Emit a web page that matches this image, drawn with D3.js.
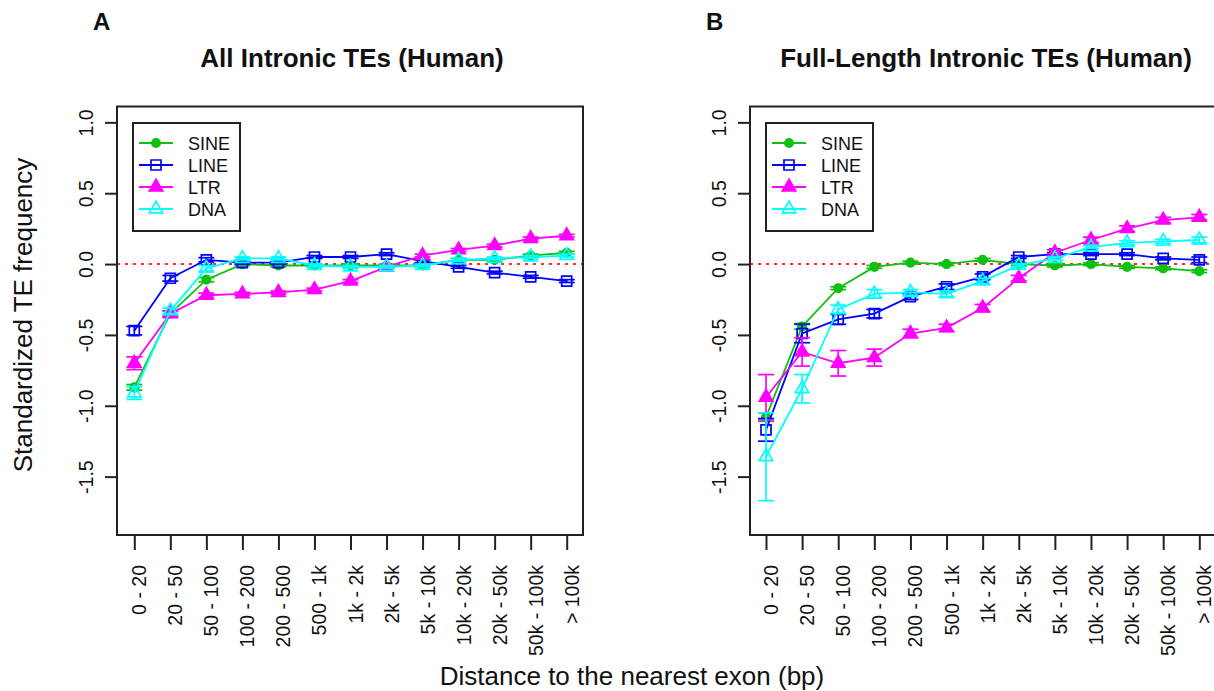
<!DOCTYPE html>
<html>
<head>
<meta charset="utf-8">
<script src="https://cdn.jsdelivr.net/npm/d3@7"></script>
<style>
  body { margin: 0; background: #fff; }
  svg { display: block; }
  text { font-family: "Liberation Sans", Arial, Helvetica, sans-serif; fill: #111; }
</style>
</head>
<body>
<div id="chart"></div>
<script>
var categories = ['0 - 20', '20 - 50', '50 - 100', '100 - 200', '200 - 500', '500 - 1k',
  '1k - 2k', '2k - 5k', '5k - 10k', '10k - 20k', '20k - 50k', '50k - 100k', '> 100k'];
var yTicks = [-1.5, -1.0, -0.5, 0.0, 0.5, 1.0];
var yTickLabels = ['-1.5', '-1.0', '-0.5', '0.0', '0.5', '1.0'];

var seriesNames = ['SINE', 'LINE', 'LTR', 'DNA'];
var seriesColors = ['#10c010', '#0000ff', '#ff00ff', '#00ffff'];

// panel A: all intronic TEs
var allSine = [-0.87, -0.35, -0.11, 0.00, -0.01, -0.01, -0.01, -0.01, -0.01, 0.03, 0.03, 0.06, 0.08];
var allSineErr = [0.02, 0.02, 0.015, 0.01, 0.01, 0.01, 0.01, 0.01, 0.01, 0.01, 0.01, 0.01, 0.01];
var allLine = [-0.47, -0.10, 0.03, 0.01, 0.01, 0.05, 0.05, 0.07, 0.02, -0.02, -0.06, -0.09, -0.12];
var allLineErr = [0.03, 0.02, 0.015, 0.01, 0.01, 0.01, 0.01, 0.01, 0.01, 0.01, 0.01, 0.01, 0.01];
var allLtr = [-0.70, -0.35, -0.22, -0.21, -0.20, -0.18, -0.12, -0.02, 0.06, 0.10, 0.13, 0.18, 0.20];
var allLtrErr = [0.045, 0.02, 0.015, 0.01, 0.01, 0.01, 0.01, 0.01, 0.01, 0.01, 0.01, 0.01, 0.01];
var allDna = [-0.91, -0.33, -0.03, 0.04, 0.04, -0.01, -0.02, -0.02, -0.01, 0.03, 0.04, 0.05, 0.06];
var allDnaErr = [0.045, 0.02, 0.02, 0.01, 0.01, 0.01, 0.01, 0.01, 0.01, 0.01, 0.01, 0.01, 0.01];

// panel B: full-length intronic TEs
var fullSine = [-1.08, -0.44, -0.17, -0.02, 0.01, 0.00, 0.03, 0.00, -0.01, 0.00, -0.02, -0.03, -0.05];
var fullSineErr = [0.03, 0.02, 0.01, 0.01, 0.01, 0.01, 0.01, 0.01, 0.01, 0.01, 0.01, 0.01, 0.01];
var fullLine = [-1.17, -0.49, -0.39, -0.35, -0.23, -0.16, -0.09, 0.05, 0.07, 0.07, 0.07, 0.04, 0.03];
var fullLineErr = [0.08, 0.065, 0.035, 0.03, 0.02, 0.02, 0.02, 0.01, 0.01, 0.01, 0.01, 0.01, 0.02];
var fullLtr = [-0.94, -0.62, -0.70, -0.66, -0.49, -0.45, -0.31, -0.10, 0.08, 0.17, 0.25, 0.31, 0.33];
var fullLtrErr = [0.16, 0.10, 0.09, 0.06, 0.03, 0.025, 0.025, 0.02, 0.02, 0.02, 0.02, 0.02, 0.02];
var fullDna = [-1.36, -0.88, -0.32, -0.21, -0.20, -0.21, -0.12, -0.01, 0.04, 0.12, 0.15, 0.16, 0.17];
var fullDnaErr = [0.31, 0.10, 0.03, 0.03, 0.02, 0.02, 0.02, 0.01, 0.01, 0.01, 0.015, 0.015, 0.02];

var width = 1214,
  height = 691,
  plotTop = 106.5,
  plotBottom = 535,
  boxColor = '#222';

var svg = d3.select('#chart').append('svg')
  .attr('width', width)
  .attr('height', height);

var y = d3.scaleLinear()
  .domain([-1.912, 1.112])
  .range([plotBottom, plotTop]);

var symbols = [
  { type: d3.symbolCircle, size: 55, fill: true },
  { type: d3.symbolSquare, size: 100, fill: false },
  { type: d3.symbolTriangle, size: 78, fill: true },
  { type: d3.symbolTriangle, size: 78, fill: false }
];

var panels = [
  {
    left: 117, right: 583, x0: 134.3, x1: 566.7,
    title: 'All Intronic TEs (Human)', titleX: 352, letter: 'A', letterX: 93,
    legendX: 133,
    values: [allSine, allLine, allLtr, allDna],
    errors: [allSineErr, allLineErr, allLtrErr, allDnaErr]
  },
  {
    left: 750, right: 1215, x0: 766, x1: 1199.3,
    title: 'Full-Length Intronic TEs (Human)', titleX: 986, letter: 'B', letterX: 706,
    legendX: 766,
    values: [fullSine, fullLine, fullLtr, fullDna],
    errors: [fullSineErr, fullLineErr, fullLtrErr, fullDnaErr]
  }
];

function drawMarker(g, i, cx, cy) {
  var s = symbols[i];
  g.append('path')
    .attr('d', d3.symbol().type(s.type).size(s.size)())
    .attr('transform', 'translate(' + cx + ',' + cy + ')')
    .attr('fill', s.fill ? seriesColors[i] : 'none')
    .attr('stroke', seriesColors[i])
    .attr('stroke-width', 1.7);
}

panels.forEach(function (p) {
  var x = d3.scalePoint()
    .domain(categories)
    .range([p.x0, p.x1]);

  var g = svg.append('g');

  // reference line at zero
  g.append('line')
    .attr('x1', p.left).attr('x2', p.right)
    .attr('y1', y(0)).attr('y2', y(0))
    .attr('stroke', '#ff2a2a')
    .attr('stroke-width', 2)
    .attr('stroke-dasharray', '3,5');

  p.values.forEach(function (vals, si) {
    var color = seriesColors[si];
    var errs = p.errors[si];
    var line = d3.line()
      .x(function (d, i) { return x(categories[i]); })
      .y(function (d) { return y(d); });

    g.append('path')
      .datum(vals)
      .attr('d', line)
      .attr('fill', 'none')
      .attr('stroke', color)
      .attr('stroke-width', 1.8);

    // error bars
    vals.forEach(function (v, i) {
      var cx = x(categories[i]);
      var e = errs[i];
      var eb = g.append('g')
        .attr('stroke', color)
        .attr('stroke-width', 1.7);
      eb.append('line')
        .attr('x1', cx).attr('x2', cx)
        .attr('y1', y(v - e)).attr('y2', y(v + e));
      eb.append('line')
        .attr('x1', cx - 8).attr('x2', cx + 8)
        .attr('y1', y(v - e)).attr('y2', y(v - e));
      eb.append('line')
        .attr('x1', cx - 8).attr('x2', cx + 8)
        .attr('y1', y(v + e)).attr('y2', y(v + e));
    });

    vals.forEach(function (v, i) {
      drawMarker(g, si, x(categories[i]), y(v));
    });
  });

  // plot box
  g.append('rect')
    .attr('x', p.left).attr('y', plotTop)
    .attr('width', p.right - p.left)
    .attr('height', plotBottom - plotTop)
    .attr('fill', 'none')
    .attr('stroke', boxColor)
    .attr('stroke-width', 2);

  // y axis
  var yAxis = d3.axisLeft(y)
    .tickValues(yTicks)
    .tickSize(12)
    .tickFormat(function (d, i) { return yTickLabels[i]; });

  var ya = g.append('g')
    .attr('transform', 'translate(' + p.left + ',0)')
    .call(yAxis);
  ya.select('.domain').remove();
  ya.selectAll('line').attr('stroke', boxColor).attr('stroke-width', 2);
  ya.selectAll('text')
    .attr('x', null).attr('dy', null)
    .attr('text-anchor', 'middle')
    .attr('transform', 'translate(-24,0) rotate(-90)')
    .style('font-size', '19.5px')
    .attr('fill', '#111');

  // x axis
  var xAxis = d3.axisBottom(x).tickSize(15);
  var xa = g.append('g')
    .attr('transform', 'translate(0,' + plotBottom + ')')
    .call(xAxis);
  xa.select('.domain').remove();
  xa.selectAll('line').attr('stroke', boxColor).attr('stroke-width', 2);
  xa.selectAll('text')
    .attr('y', null).attr('dy', null)
    .attr('text-anchor', 'end')
    .attr('transform', 'translate(11.5,30) rotate(-90)')
    .style('font-size', '19.5px')
    .attr('fill', '#111');

  // title and panel letter
  svg.append('text')
    .attr('x', p.titleX).attr('y', 67)
    .attr('text-anchor', 'middle')
    .style('font-size', '26px')
    .style('font-weight', 'bold')
    .text(p.title);

  svg.append('text')
    .attr('x', p.letterX).attr('y', 30)
    .style('font-size', '24px')
    .style('font-weight', 'bold')
    .text(p.letter);

  // legend
  var lg = svg.append('g').attr('transform', 'translate(' + p.legendX + ',123)');
  lg.append('rect')
    .attr('width', 107).attr('height', 108)
    .attr('fill', '#fff')
    .attr('stroke', boxColor)
    .attr('stroke-width', 2);
  seriesNames.forEach(function (name, i) {
    var ly = 20 + i * 22;
    lg.append('line')
      .attr('x1', 6).attr('x2', 40)
      .attr('y1', ly).attr('y2', ly)
      .attr('stroke', seriesColors[i])
      .attr('stroke-width', 1.8);
    drawMarker(lg, i, 23, ly);
    lg.append('text')
      .attr('x', 55).attr('y', ly + 6.5)
      .style('font-size', '18px')
      .text(name);
  });
});

// shared axis titles
svg.append('text')
  .attr('transform', 'translate(32,315) rotate(-90)')
  .attr('text-anchor', 'middle')
  .style('font-size', '26px')
  .text('Standardized TE frequency');

svg.append('text')
  .attr('x', 632).attr('y', 685)
  .attr('text-anchor', 'middle')
  .style('font-size', '26px')
  .text('Distance to the nearest exon (bp)');
</script>
</body>
</html>
